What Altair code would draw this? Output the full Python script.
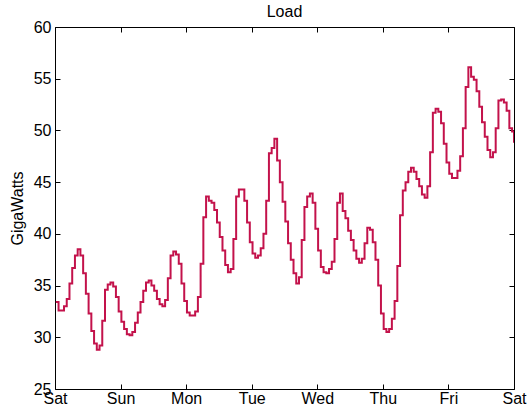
import json

import altair as alt
import pandas as pd

FONT = "Liberation Sans"
LINE_COLOR = "#c3124b"

# Axis labelling
day_names = ["Sat", "Sun", "Mon", "Tue", "Wed", "Thu", "Fri", "Sat"]
day_ticks = [0, 24, 48, 72, 96, 120, 144, 168]
gw_ticks = [25, 30, 35, 40, 45, 50, 55, 60]

# Hourly system load in GW, one list per day (Saturday to Friday)
sat = [33.4, 32.6, 32.6, 33.0, 33.7, 35.2, 36.7, 37.9, 38.5, 37.9, 36.2, 34.2,
       32.3, 30.6, 29.4, 28.8, 29.2, 31.6, 34.6, 35.1, 35.3, 34.9, 33.9, 32.5]
sun = [31.5, 30.8, 30.3, 30.2, 30.5, 31.4, 32.4, 33.4, 34.5, 35.3, 35.5, 35.0,
       34.5, 33.7, 33.2, 33.0, 33.6, 35.7, 37.9, 38.3, 38.0, 37.1, 35.2, 33.5]
mon = [32.4, 32.1, 32.1, 32.5, 33.9, 37.1, 41.6, 43.6, 43.2, 43.0, 42.3, 41.1,
       39.7, 38.4, 37.0, 36.3, 36.6, 39.5, 43.6, 44.3, 44.3, 43.2, 41.1, 39.2]
tue = [38.1, 37.7, 37.9, 38.6, 40.0, 43.2, 47.8, 48.3, 49.2, 47.1, 45.0, 43.1,
       41.2, 39.1, 37.5, 36.2, 35.2, 35.8, 39.4, 42.6, 43.6, 43.9, 43.0, 40.5]
wed = [38.4, 36.8, 36.3, 36.2, 36.6, 37.3, 39.5, 43.0, 43.9, 42.2, 41.5, 40.3,
       39.4, 38.4, 37.6, 37.2, 37.6, 39.1, 40.6, 40.4, 39.2, 37.5, 35.0, 32.3]
thu = [30.8, 30.5, 30.8, 31.8, 33.5, 36.9, 41.8, 44.2, 45.0, 46.0, 46.4, 46.0,
       45.3, 44.6, 43.8, 43.5, 44.6, 47.9, 51.7, 52.1, 51.8, 50.7, 48.7, 46.9]
fri = [45.8, 45.4, 45.4, 46.1, 47.5, 50.2, 54.2, 56.1, 55.2, 54.9, 53.8, 52.3,
       50.8, 49.4, 48.1, 47.4, 47.9, 50.2, 52.9, 53.0, 52.7, 51.9, 50.2, 49.9]
final_reading = 48.8

load = sat + sun + mon + tue + wed + thu + fri + [final_reading]
# readings start a little after midnight; the last one closes the week
hours = [h + 0.3 for h in range(len(load) - 1)] + [168]

df = pd.DataFrame({"hour": hours, "load": load})

label_expr = json.dumps(day_names) + "[round(datum.value / 24)]"

x_scale = alt.Scale(domain=[0, 168], nice=False, zero=False)
y_scale = alt.Scale(domain=[25, 60], nice=False, zero=False)

axis_style = dict(
    domain=False,
    grid=False,
    ticks=True,
    tickSize=5,
    tickColor="black",
    tickWidth=1,
    offset=-5,
    labelFont=FONT,
    labelFontSize=16,
    labelColor="black",
    labelFlush=False,
    labelOverlap=False,
    labelBound=False,
)

base = alt.Chart(df)

load_line = base.mark_line(
    color=LINE_COLOR, strokeWidth=2, interpolate="step-after", clip=True
).encode(
    x=alt.X(
        "hour:Q",
        scale=x_scale,
        axis=alt.Axis(
            orient="bottom", values=day_ticks, labelExpr=label_expr,
            labelPadding=1, title=None, **axis_style,
        ),
    ),
    y=alt.Y(
        "load:Q",
        scale=y_scale,
        axis=alt.Axis(
            orient="left", values=gw_ticks, format="d", labelPadding=4,
            title="GigaWatts", titleFont=FONT, titleFontSize=16,
            titleFontWeight="normal", titleColor="black", titlePadding=8,
            **axis_style,
        ),
    ),
)

# invisible copy that carries the tick marks on the top and right edges
mirror_ticks = base.mark_line(opacity=0).encode(
    x=alt.X(
        "hour:Q",
        scale=x_scale,
        axis=alt.Axis(orient="top", values=day_ticks, labels=False, title=None,
                      **axis_style),
    ),
    y=alt.Y(
        "load:Q",
        scale=y_scale,
        axis=alt.Axis(orient="right", values=gw_ticks, labels=False, title=None,
                      **axis_style),
    ),
)

chart = (
    alt.layer(load_line, mirror_ticks)
    .resolve_axis(x="independent", y="independent")
    .properties(
        width=459,
        height=362,
        title=alt.TitleParams(
            "Load", font=FONT, fontSize=16, fontWeight="normal", color="black",
            anchor="middle", frame="group", offset=-1,
        ),
        autosize=alt.AutoSizeParams(type="none"),
        padding={"left": 55, "top": 27, "right": 13, "bottom": 23},
        background="white",
    )
    .configure_view(stroke="black", strokeWidth=1)
)

chart.save("out.html", embed_options={"renderer": "svg", "actions": False})
